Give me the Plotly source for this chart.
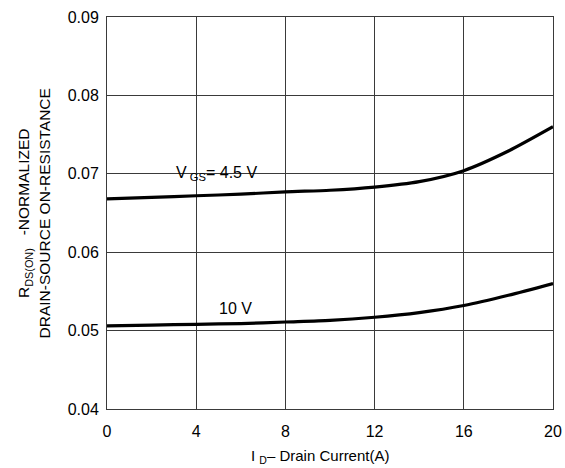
import plotly.graph_objects as go

current = [0, 2, 4, 6, 8, 10, 12, 14, 16, 18, 20]
r_45v = [0.0668, 0.0670, 0.0672, 0.0674, 0.0677, 0.0679, 0.0683, 0.0690, 0.0704, 0.0729, 0.0760]
r_10v = [0.0506, 0.0507, 0.0508, 0.0509, 0.0511, 0.0513, 0.0517, 0.0523, 0.0532, 0.0545, 0.0560]
x_ticks = [0, 4, 8, 12, 16, 20]
y_ticks = [0.04, 0.05, 0.06, 0.07, 0.08, 0.09]

FONT = "Liberation Sans, Arial, sans-serif"
GRID = "#3a3a3a"

fig = go.Figure()
for ys in (r_45v, r_10v):
    fig.add_trace(go.Scatter(x=current, y=ys, mode="lines",
                             line=dict(color="black", width=3.2, shape="spline", smoothing=0.7),
                             showlegend=False, hoverinfo="skip"))

fig.add_annotation(x=4.93, y=0.0701, text="V<sub> GS</sub>= 4.5 V", showarrow=False,
                   font=dict(size=16, color="black", family=FONT))
fig.add_annotation(x=5.78, y=0.0528, text="10 V", showarrow=False,
                   font=dict(size=16, color="black", family=FONT))

# axis titles placed as annotations
fig.add_annotation(xref="paper", yref="paper", x=-0.165, y=0.5, textangle=-90,
                   text="R<sub>DS(ON)</sub>   -NORMALIZED<br>DRAIN-SOURCE ON-RESISTANCE",
                   showarrow=False, xanchor="center", yanchor="middle",
                   font=dict(size=15.5, color="black", family=FONT))
fig.add_annotation(xref="paper", yref="paper", x=(320 - 107) / 446, y=-0.122,
                   text="I <sub>D</sub>– Drain Current(A)", showarrow=False,
                   xanchor="center", yanchor="middle",
                   font=dict(size=15, color="black", family=FONT))

fig.update_layout(
    width=565, height=468,
    margin=dict(l=107, r=12, t=17, b=59),
    paper_bgcolor="white", plot_bgcolor="white",
    font=dict(family=FONT, color="black", size=16),
    xaxis=dict(range=[0, 20], tickvals=x_ticks, showgrid=True, gridcolor=GRID, gridwidth=1,
               showline=True, linecolor=GRID, mirror=True, ticks="", zeroline=False,
               automargin=False, ticklabelstandoff=8, ticklabeloverflow="allow",
               tickfont=dict(size=16)),
    yaxis=dict(range=[0.04, 0.09], tickvals=y_ticks, tickformat=".2f", showgrid=True,
               gridcolor=GRID, gridwidth=1, showline=True, linecolor=GRID, mirror=True,
               ticks="", zeroline=False, automargin=False, ticklabelstandoff=4,
               ticklabeloverflow="allow", tickfont=dict(size=16)),
)

fig.write_html("out.html", config={"displayModeBar": False},
               post_script="document.body.style.margin='0';document.body.style.overflow='hidden';")
